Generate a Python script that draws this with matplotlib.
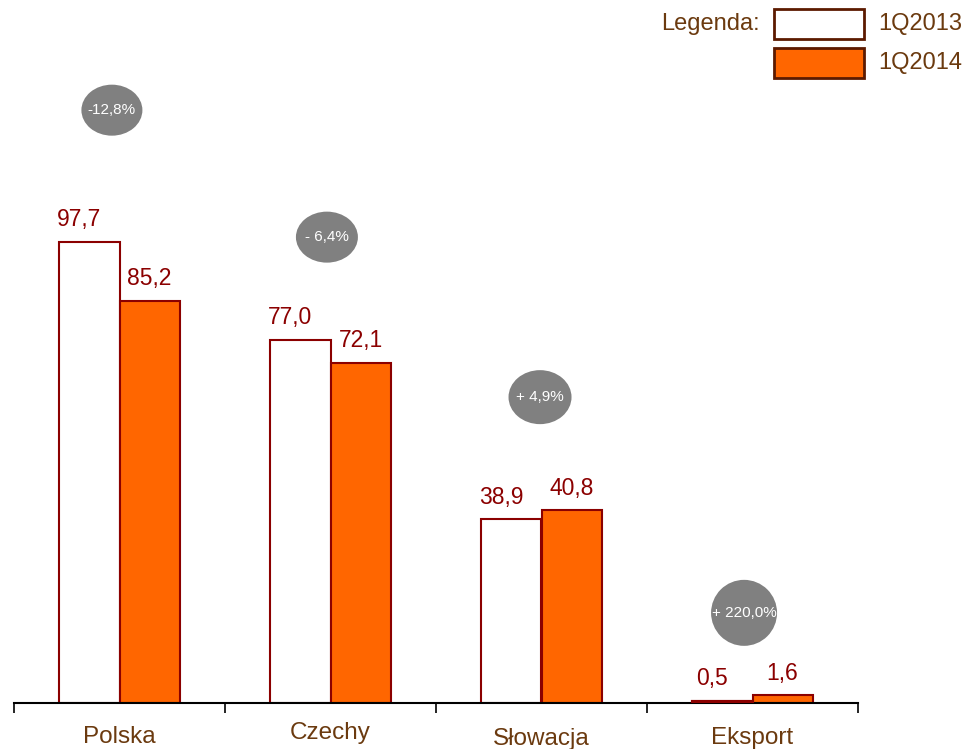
import matplotlib
matplotlib.use('Agg')
import matplotlib.pyplot as plt
from matplotlib.patches import Ellipse, Rectangle

plt.rcParams['font.family'] = ['Liberation Sans', 'DejaVu Sans']

# data
categories = ['Polska', 'Czechy', 'Słowacja', 'Eksport']
q2013 = [97.7, 77.0, 38.9, 0.5]
q2014 = [85.2, 72.1, 40.8, 1.6]
changes = ['-12,8%', '- 6,4%', '+ 4,9%', '+ 220,0%']
series_names = ['1Q2013', '1Q2014']

# style
W, H, DPI = 968, 749, 100
ORANGE = '#FF6600'
EDGE = '#8B0000'
VALUE_COLOR = '#8B0000'
CAT_COLOR = '#6B3A0F'
LEG_EDGE = '#5C1A00'
BUBBLE = '#808080'
BAR_W = 0.285
AX_LEFT, AX_RIGHT, AX_BASE = 14, 858, 703   # pixels
PX_Y = 4.72                                   # pixels per unit
PX_X = (AX_RIGHT - AX_LEFT) / 4.0

# bubble layout: (x offset from group, y in data units, width px, height px)
BUBBLES = [(-0.036, 125.6, 61, 51),
           (-0.017, 98.7, 62, 51),
           (-0.007, 64.8, 63, 54),
           (-0.040, 19.1, 66, 66)]
CAT_DY = [-34, -30, -36, -35]   # px below axis


def fx(px):
    return px / W


def fy(py):
    return 1 - py / H


fig = plt.figure(figsize=(W / DPI, H / DPI), dpi=DPI)
ax = fig.add_axes([fx(AX_LEFT), fy(AX_BASE), (AX_RIGHT - AX_LEFT) / W, AX_BASE / H])
ax.set_xlim(-0.5, 3.5)
ax.set_ylim(0, AX_BASE / PX_Y)
ax.patch.set_alpha(0)

x = list(range(len(categories)))
ax.bar([i - BAR_W / 2 for i in x], q2013, BAR_W, color='white', edgecolor=EDGE,
       linewidth=1.5, zorder=2)
ax.bar([i + BAR_W / 2 for i in x], q2014, BAR_W, color=ORANGE, edgecolor=EDGE,
       linewidth=1.5, zorder=2)
# the tiny Eksport bar reads as a dark line
ax.bar(3 - BAR_W / 2, q2013[3], BAR_W, color=EDGE, edgecolor=EDGE, linewidth=1.5, zorder=3)

for i in x:
    ax.text(i - BAR_W / 2 - 0.05, q2013[i] + 2.2, f'{q2013[i]:.1f}'.replace('.', ','),
            ha='center', va='bottom', fontsize=16.5, color=VALUE_COLOR)
    ax.text(i + BAR_W / 2 + 0.0, q2014[i] + 2.2, f'{q2014[i]:.1f}'.replace('.', ','),
            ha='center', va='bottom', fontsize=16.5, color=VALUE_COLOR)
    bx, by, bw, bh = BUBBLES[i]
    ax.add_patch(Ellipse((i + bx, by), bw / PX_X, bh / PX_Y, facecolor=BUBBLE,
                         edgecolor='none', zorder=4))
    ax.text(i + bx + 0.0, by, changes[i], ha='center', va='center',
            fontsize=11, color='white', zorder=5)
    ax.annotate(categories[i], (i, 0), xytext=(0, CAT_DY[i] * 72 / DPI),
                textcoords='offset points', ha='center', va='center',
                fontsize=17.5, color=CAT_COLOR, annotation_clip=False)

for s in ['top', 'right', 'left']:
    ax.spines[s].set_visible(False)
ax.spines['bottom'].set_linewidth(1.5)
ax.spines['bottom'].set_color('black')
ax.set_yticks([])
ax.set_xticks([-0.5, 0.5, 1.5, 2.5, 3.5])
ax.set_xticklabels([])
ax.tick_params(axis='x', direction='out', length=7.5, width=1.2, color='black')

# legend
fig.text(fx(760), fy(24), 'Legenda:', ha='right', va='center', fontsize=17, color=CAT_COLOR)
for k, (name, fc) in enumerate(zip(series_names, ['white', ORANGE])):
    top = 9 + 39 * k
    fig.add_artist(Rectangle((fx(774), fy(top + 30)), 90 / W, 30 / H, facecolor=fc,
                             edgecolor=LEG_EDGE, linewidth=2, transform=fig.transFigure))
    fig.text(fx(878), fy(top + 15), name, ha='left', va='center', fontsize=17, color=CAT_COLOR)

fig.savefig('out.png', dpi=DPI)
